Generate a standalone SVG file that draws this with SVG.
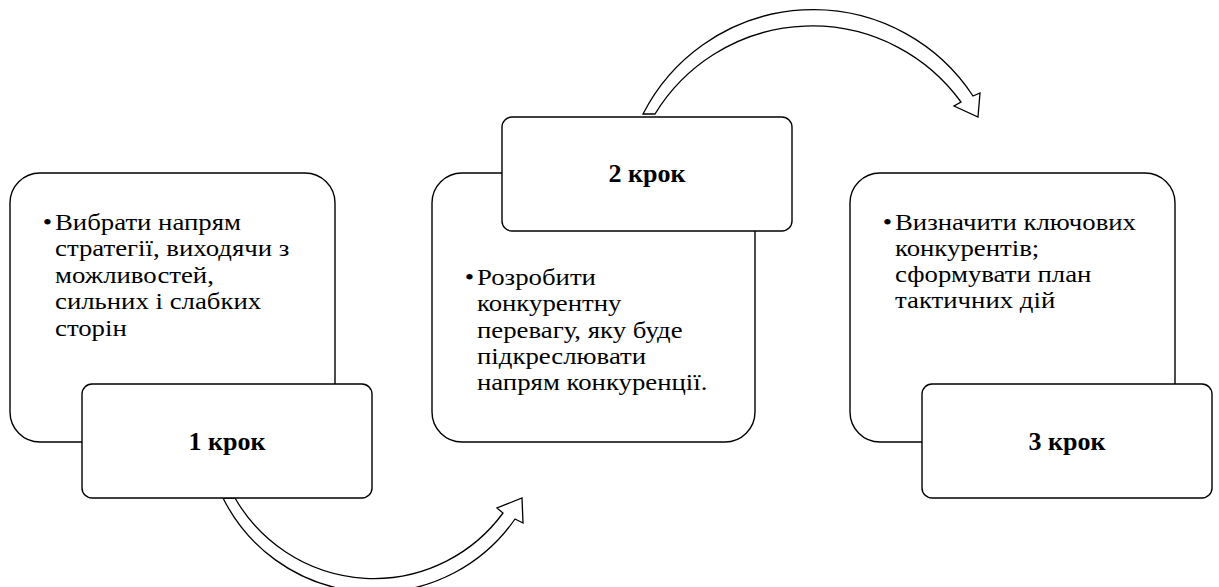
<svg xmlns="http://www.w3.org/2000/svg" width="1219" height="587" viewBox="0 0 1219 587">
<style>
.big{fill:#fff;stroke:#000;stroke-width:1.4}
.small{fill:#fff;stroke:#000;stroke-width:1.4}
.arrow{fill:#fff;stroke:#000;stroke-width:1.3;stroke-linejoin:miter}
.body{font-family:"Liberation Serif","Times New Roman",serif;font-size:23px;fill:#000}
.title{font-family:"Liberation Serif","Times New Roman",serif;font-size:25px;font-weight:bold;fill:#000;text-anchor:middle}
</style>
<rect width="1219" height="587" fill="#fff"/>
<g id="connectors">
<path class="arrow" d="M223 498 A170 170 0 0 0 515 519 L523 523 L522 498 L497 508 L503 513 A160 160 0 0 1 235 498 Z"/>
<path class="arrow" d="M643 114 A191 191 0 0 1 973 96 L980 93 L978 117 L954 106 L961 102 A184 184 0 0 0 655 114 Z"/>
</g>
<g id="step1">
<rect class="big" x="10" y="173" width="325" height="269" rx="30"/>
<g transform="translate(55 0) scale(1.165 1)">
<text class="body" x="-10.5" y="230">•</text>
<text class="body" x="0" y="230">Вибрати напрям</text>
<text class="body" x="0" y="256.5">стратегії, виходячи з</text>
<text class="body" x="0" y="283">можливостей,</text>
<text class="body" x="0" y="309.5">сильних і слабких</text>
<text class="body" x="0" y="336">сторін</text>
</g>
<rect class="small" x="82" y="384" width="290" height="114" rx="10"/>
<text class="title" x="227" y="450" textLength="77" lengthAdjust="spacingAndGlyphs">1 крок</text>
</g>
<g id="step2">
<rect class="big" x="432" y="173" width="323" height="269" rx="30"/>
<g transform="translate(477 0) scale(1.165 1)">
<text class="body" x="-10.5" y="285">•</text>
<text class="body" x="0" y="285">Розробити</text>
<text class="body" x="0" y="311.3">конкурентну</text>
<text class="body" x="0" y="337.6">перевагу, яку буде</text>
<text class="body" x="0" y="363.9">підкреслювати</text>
<text class="body" x="0" y="390.2">напрям конкуренції.</text>
</g>
<rect class="small" x="502" y="117" width="290" height="114" rx="10"/>
<text class="title" x="647" y="182" textLength="77" lengthAdjust="spacingAndGlyphs">2 крок</text>
</g>
<g id="step3">
<rect class="big" x="850" y="173" width="325" height="269" rx="30"/>
<g transform="translate(895 0) scale(1.165 1)">
<text class="body" x="-10.5" y="230">•</text>
<text class="body" x="0" y="230">Визначити ключових</text>
<text class="body" x="0" y="256">конкурентів;</text>
<text class="body" x="0" y="282">сформувати план</text>
<text class="body" x="0" y="308">тактичних дій</text>
</g>
<rect class="small" x="922" y="384" width="290" height="114" rx="10"/>
<text class="title" x="1067" y="450" textLength="77" lengthAdjust="spacingAndGlyphs">3 крок</text>
</g>
</svg>
